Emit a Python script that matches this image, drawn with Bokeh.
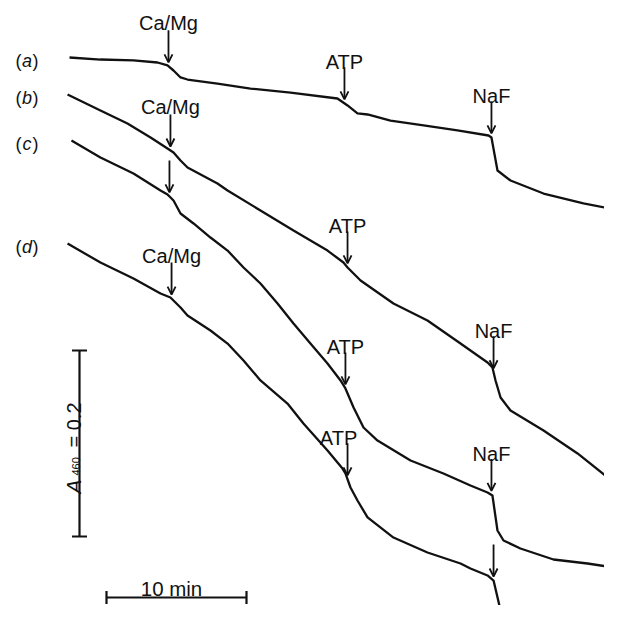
import numpy as np
from bokeh.plotting import figure
from bokeh.models import Range1d, Arrow, OpenHead
from bokeh.core.properties import value
from bokeh.embed import file_html
from bokeh.resources import INLINE

# ---------------- data: time (min) vs absorbance A460 ----------------
t_a = [0.00, 2.21, 4.57, 6.29, 7.00, 7.43, 7.93, 8.43, 10.57, 12.93, 15.79, 19.14, 19.86,
       20.57, 21.29, 22.93, 25.29, 27.71, 29.93, 30.14, 30.57, 31.50, 33.86, 36.71, 39.36]
A_a = [0.6054, 0.6032, 0.6022, 0.6000, 0.5968, 0.5914, 0.5839, 0.5817, 0.5774, 0.5720, 0.5677,
       0.5613, 0.5538, 0.5452, 0.5441, 0.5376, 0.5323, 0.5269, 0.5215, 0.5194, 0.4839, 0.4731,
       0.4591, 0.4484, 0.4409]

t_b = [-0.14, 2.21, 4.14, 5.79, 7.00, 7.43, 7.93, 8.43, 10.57, 11.29, 13.64, 16.00, 18.43,
       19.57, 19.86, 20.79, 23.14, 25.57, 27.93, 29.86, 30.21, 30.43, 30.79, 31.50, 33.86,
       36.29, 39.36]
A_b = [0.5656, 0.5484, 0.5344, 0.5194, 0.5075, 0.5032, 0.4946, 0.4871, 0.4699, 0.4624, 0.4409,
       0.4194, 0.3978, 0.3849, 0.3796, 0.3656, 0.3409, 0.3226, 0.2978, 0.2774, 0.2720, 0.2581,
       0.2398, 0.2258, 0.2043, 0.1796, 0.1430]

t_c = [0.14, 2.21, 4.57, 6.50, 7.00, 7.43, 7.93, 8.86, 10.07, 11.29, 12.43, 13.64, 14.86,
       16.00, 17.21, 18.43, 19.36, 19.71, 20.29, 21.00, 22.00, 24.36, 26.71, 28.64, 29.86,
       30.21, 30.57, 31.00, 32.21, 34.57, 37.00, 39.36]
A_c = [0.5161, 0.4978, 0.4806, 0.4624, 0.4581, 0.4516, 0.4376, 0.4269, 0.4118, 0.3978, 0.3796,
       0.3624, 0.3409, 0.3194, 0.2978, 0.2763, 0.2581, 0.2495, 0.2290, 0.2075, 0.1935, 0.1720,
       0.1581, 0.1452, 0.1376, 0.1344, 0.0968, 0.0860, 0.0774, 0.0656, 0.0613, 0.0559]

t_d = [-0.14, 2.21, 4.57, 6.50, 7.21, 7.93, 8.43, 10.07, 11.29, 12.43, 13.64, 15.57, 16.71,
       18.43, 19.50, 19.71, 20.07, 20.57, 21.29, 23.14, 25.57, 27.93, 28.64, 29.86, 30.29,
       30.79, 31.50]
A_d = [0.4054, 0.3849, 0.3677, 0.3516, 0.3473, 0.3366, 0.3280, 0.3118, 0.2978, 0.2796, 0.2581,
       0.2333, 0.2118, 0.1828, 0.1634, 0.1581, 0.1430, 0.1290, 0.1108, 0.0892, 0.0731, 0.0613,
       0.0559, 0.0484, 0.0430, 0.0108, 0.0000]

trace_letters = ["a", "b", "c", "d"]
event_names = ["Ca/Mg", "ATP", "NaF"]
# addition times (min) for each trace
events_a = [7.07, 19.64, 30.14]
events_b = [7.21, 19.86, 30.29]
events_c = [7.14, 19.71, 30.14]
events_d = [7.29, 19.86, 30.29]
# which additions carry a printed label
labelled_a = [True, True, True]
labelled_b = [True, True, True]
labelled_c = [False, True, True]
labelled_d = [True, True, False]

SCALE_TIME = 10    # min
SCALE_ABS = 0.2    # A460 units

# ---------------- layout ----------------
PX_MIN = 14.0      # px per minute
PX_ABS = 930.0     # px per absorbance unit
W, H = 604, 605
X0 = -69 / PX_MIN
X1 = X0 + W / PX_MIN
Y1 = 620 / PX_ABS
Y0 = Y1 - H / PX_ABS

FONT = value("Liberation Sans")
INK = "#111111"

def tx(px):
    return (px - 69) / PX_MIN

def ay(py):
    return (620 - py) / PX_ABS

p = figure(width=W, height=H, x_range=Range1d(X0, X1), y_range=Range1d(Y0, Y1),
           output_backend="svg", toolbar_location=None, min_border=0,
           x_axis_location=None, y_axis_location=None)
p.outline_line_color = None
p.grid.visible = False
p.background_fill_color = "white"
p.border_fill_color = "white"

traces = [(t_a, A_a, events_a, labelled_a), (t_b, A_b, events_b, labelled_b),
          (t_c, A_c, events_c, labelled_c), (t_d, A_d, events_d, labelled_d)]

ARROW_LEN = 32 / PX_ABS
TIP_GAP = 4 / PX_ABS
LABEL_GAP = 5 / PX_ABS

for letter, (t, A, ev, lab) in zip(trace_letters, traces):
    p.line(t, A, line_width=2.3, line_color=INK, line_join="round")
    yl = A[0] - 3.5 / PX_ABS
    p.text(x=[tx(15)], y=[yl], text=["("], text_font=FONT,
           text_font_size=value("18px"), text_align="left", text_baseline="alphabetic",
           text_color=INK)
    p.text(x=[tx(26.5)], y=[yl], text=[letter], text_font=FONT,
           text_font_size=value("18px"), text_font_style="italic", text_align="center",
           text_baseline="alphabetic", text_color=INK)
    p.text(x=[tx(38)], y=[yl], text=[")"], text_font=FONT,
           text_font_size=value("18px"), text_align="right", text_baseline="alphabetic",
           text_color=INK)
    for name, te, show in zip(event_names, ev, lab):
        tip = float(np.interp(te, t, A)) + TIP_GAP
        top = tip + ARROW_LEN
        p.add_layout(Arrow(end=OpenHead(size=8, line_width=1.8, line_color=INK),
                           x_start=te, y_start=top, x_end=te, y_end=tip,
                           line_width=1.8, line_color=INK))
        if show:
            dx = -9 / PX_MIN if (letter == "d" and name == "ATP") else 0
            gap = LABEL_GAP + (2 / PX_ABS if name == "Ca/Mg" else 0)
            p.text(x=[te + dx], y=[top + gap], text=[name], text_font=FONT,
                   text_font_size=value("20px"), text_align="center",
                   text_baseline="alphabetic", text_color=INK)

# ---------------- scale bars ----------------
bar_t = tx(79)
bar_A0 = ay(536)
cap_w = 7.5 / PX_MIN
p.segment(x0=[bar_t, bar_t - cap_w, bar_t - cap_w], y0=[bar_A0, bar_A0, bar_A0 + SCALE_ABS],
          x1=[bar_t, bar_t + cap_w, bar_t + cap_w], y1=[bar_A0 + SCALE_ABS, bar_A0, bar_A0 + SCALE_ABS],
          line_width=2.2, line_color=INK)

hb_t0 = tx(106)
hb_A = ay(597)
cap_h = 6.5 / PX_ABS
p.segment(x0=[hb_t0, hb_t0, hb_t0 + SCALE_TIME], y0=[hb_A, hb_A - cap_h, hb_A - cap_h],
          x1=[hb_t0 + SCALE_TIME, hb_t0, hb_t0 + SCALE_TIME], y1=[hb_A, hb_A + cap_h, hb_A + cap_h],
          line_width=2.2, line_color=INK)
p.text(x=[hb_t0 + SCALE_TIME / 2 - 5 / PX_MIN], y=[ay(588)],
       text=[f"{SCALE_TIME} min"], text_font=FONT, text_font_size=value("20.5px"),
       text_align="center", text_baseline="alphabetic", text_color=INK)

# vertical label  A_460 = 0.2
p.text(x=[tx(73)], y=[ay(493)], text=["A"], text_font=FONT,
       text_font_size=value("21px"), text_font_style="italic", angle=np.pi / 2,
       text_align="left", text_baseline="alphabetic", text_color=INK)
p.text(x=[tx(75)], y=[ay(475)], text=["460"], text_font=FONT,
       text_font_size=value("11px"), angle=np.pi / 2,
       text_align="left", text_baseline="alphabetic", text_color=INK)
p.text(x=[tx(73)], y=[ay(447)], text=[f"= {SCALE_ABS}"], text_font=FONT,
       text_font_size=value("20px"), angle=np.pi / 2,
       text_align="left", text_baseline="alphabetic", text_color=INK)

open("out.html", "w").write(file_html(p, INLINE))
